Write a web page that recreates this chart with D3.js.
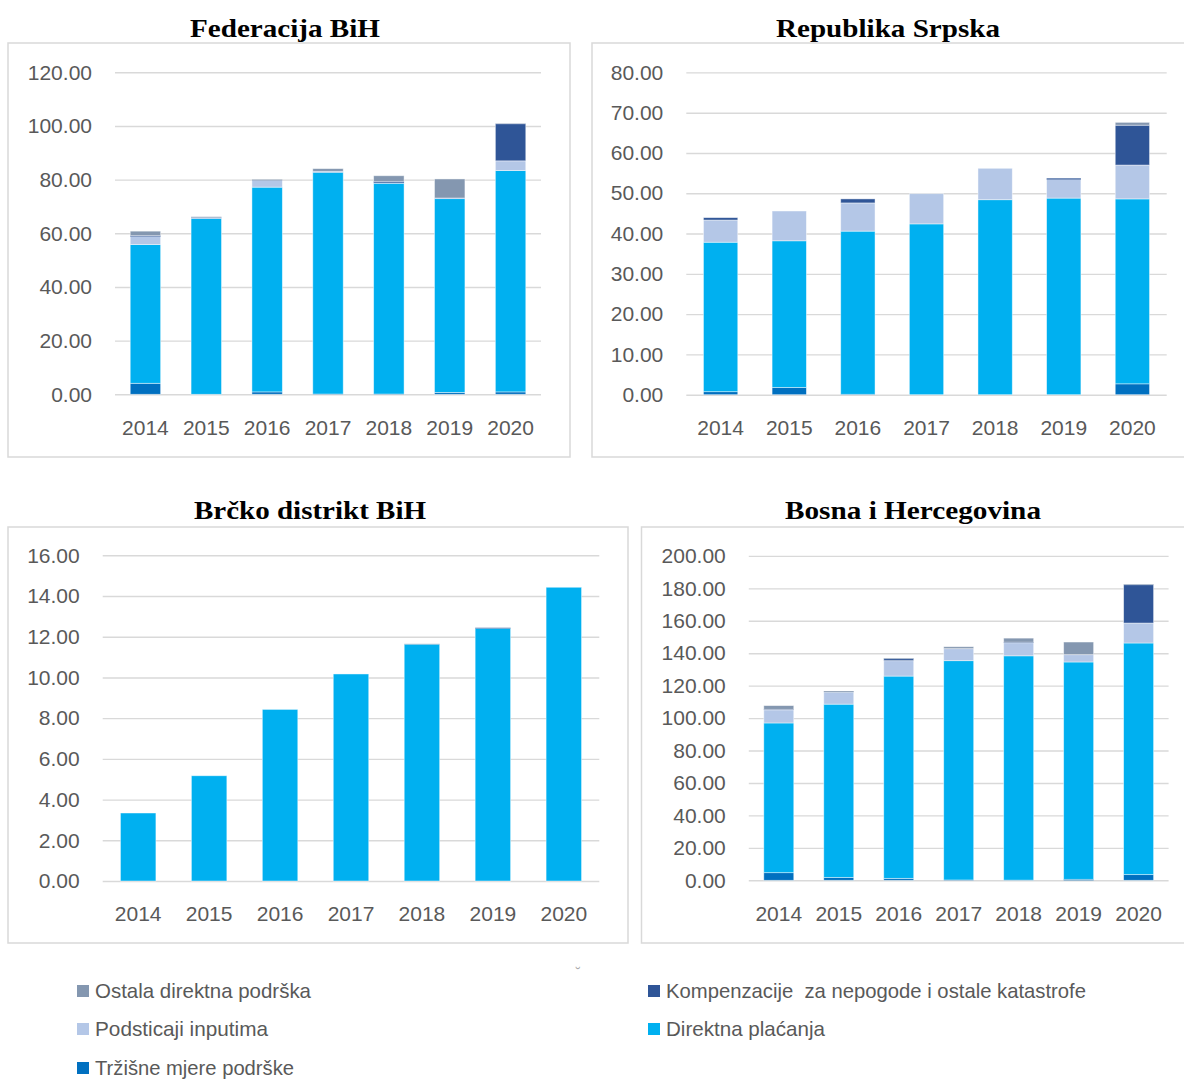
<!DOCTYPE html>
<html>
<head>
<meta charset="utf-8">
<title>Direktna podrška po entitetima</title>
<style>
  body { margin:0; background:#fff; }
  svg text { font-family: "Liberation Sans", Arial, sans-serif; }
</style>
</head>
<body>
<script src="https://cdnjs.cloudflare.com/ajax/libs/d3/7.8.5/d3.min.js"></script>
<script type="text/javascript">
    // categories
    var years = ["2014", "2015", "2016", "2017", "2018", "2019", "2020"];

    // series, bottom to top of the stack
    var seriesNames = ["Tržišne mjere podrške", "Direktna plaćanja", "Podsticaji inputima",
                       "Kompenzacije  za nepogode i ostale katastrofe", "Ostala direktna podrška"];
    var seriesColors = ["#0070C0", "#00B0F0", "#B4C7E7", "#2F5597", "#8497B0"];

    // Federacija BiH
    var trzisneFbih    = [4.1, 0.0, 0.9, 0.1, 0.1, 0.7, 0.9];
    var direktnaFbih   = [51.7, 65.5, 76.3, 82.6, 78.5, 72.2, 82.5];
    var podsticajiFbih = [3.0, 0.4, 2.5, 0.4, 0.25, 0.25, 3.6];
    var kompFbih       = [0.4, 0.0, 0.1, 0.0, 0.5, 0.0, 13.8];
    var ostalaFbih     = [1.6, 0.25, 0.2, 1.0, 2.1, 7.1, 0.1];

    // Republika Srpska
    var trzisneRs    = [0.75, 1.8, 0.1, 0.0, 0.0, 0.0, 2.7];
    var direktnaRs   = [37.1, 36.4, 40.5, 42.4, 48.4, 48.8, 45.9];
    var podsticajiRs = [5.5, 7.4, 7.0, 7.5, 7.8, 4.6, 8.4];
    var kompRs       = [0.6, 0.0, 1.0, 0.0, 0.0, 0.3, 9.9];
    var ostalaRs     = [0.0, 0.0, 0.0, 0.0, 0.0, 0.0, 0.7];

    // Brčko distrikt BiH
    var trzisneBrcko    = [0, 0, 0, 0, 0, 0, 0];
    var direktnaBrcko   = [3.34, 5.17, 8.43, 10.17, 11.63, 12.41, 14.43];
    var podsticajiBrcko = [0, 0, 0, 0, 0, 0, 0];
    var kompBrcko       = [0, 0, 0, 0, 0, 0.03, 0];
    var ostalaBrcko     = [0, 0, 0, 0, 0.02, 0, 0];

    // Bosna i Hercegovina
    var trzisneBih    = [4.7, 1.8, 1.2, 0.2, 0.1, 0.6, 3.5];
    var direktnaBih   = [92.3, 106.8, 124.7, 135.2, 138.3, 134.0, 142.8];
    var podsticajiBih = [8.0, 7.4, 9.5, 7.4, 8.0, 4.5, 12.3];
    var kompBih       = [0.4, 0.0, 1.2, 0.0, 0.4, 0.0, 23.6];
    var ostalaBih     = [2.3, 0.6, 0.3, 1.2, 2.5, 7.8, 0.3];

    // y tick labels
    var ticksFbih  = [0, 20, 40, 60, 80, 100, 120];
    var ticksRs    = [0, 10, 20, 30, 40, 50, 60, 70, 80];
    var ticksBrcko = [0, 2, 4, 6, 8, 10, 12, 14, 16];
    var ticksBih   = [0, 20, 40, 60, 80, 100, 120, 140, 160, 180, 200];

    var svg = d3.select("body")
            .append("svg")
            .attr("width", 1184)
            .attr("height", 1079);

    var panels = [
        {title: "Federacija BiH", tx: 285, ty: 37, tw: 190, box: [8, 43, 570, 457],
         xr: [115, 541], yr: [394.3, 72.3], ticks: ticksFbih, labelY: 435,
         data: [trzisneFbih, direktnaFbih, podsticajiFbih, kompFbih, ostalaFbih]},
        {title: "Republika Srpska", tx: 888, ty: 37, tw: 224, box: [592, 43, 1194, 457],
         xr: [686.3, 1166.7], yr: [394.7, 72.4], ticks: ticksRs, labelY: 435,
         data: [trzisneRs, direktnaRs, podsticajiRs, kompRs, ostalaRs]},
        {title: "Brčko distrikt BiH", tx: 310, ty: 519, tw: 232, box: [8, 527, 628, 943],
         xr: [102.7, 599.3], yr: [881, 555.3], ticks: ticksBrcko, labelY: 921,
         data: [trzisneBrcko, direktnaBrcko, podsticajiBrcko, kompBrcko, ostalaBrcko]},
        {title: "Bosna i Hercegovina", tx: 913, ty: 519, tw: 256, box: [641.5, 527, 1194, 943],
         xr: [748.8, 1168.6], yr: [880.3, 555.9], ticks: ticksBih, labelY: 921,
         data: [trzisneBih, direktnaBih, podsticajiBih, kompBih, ostalaBih]}
    ];

    panels.forEach(function(p) {
        var g = svg.append("g");

        g.append("rect")
            .attr("x", p.box[0]).attr("y", p.box[1])
            .attr("width", p.box[2] - p.box[0]).attr("height", p.box[3] - p.box[1])
            .attr("fill", "#fff").attr("stroke", "#d9d9d9").attr("stroke-width", 1.5);

        g.append("text")
            .attr("x", p.tx).attr("y", p.ty)
            .attr("text-anchor", "middle")
            .attr("textLength", p.tw)
            .attr("lengthAdjust", "spacingAndGlyphs")
            .style("font-family", "'Liberation Serif', 'Times New Roman', serif")
            .style("font-weight", "bold")
            .style("font-size", "26px")
            .attr("fill", "#000")
            .text(p.title);

        var x = d3.scaleBand().domain(years).range(p.xr).paddingInner(0.5).paddingOuter(0.25);
        var y = d3.scaleLinear().domain([0, p.ticks[p.ticks.length - 1]]).range(p.yr);

        // gridlines + y labels
        var yAxis = g.append("g")
            .attr("transform", "translate(" + p.xr[0] + ",0)")
            .call(d3.axisLeft(y).tickValues(p.ticks).tickFormat(d3.format(".2f"))
                  .tickSize(-(p.xr[1] - p.xr[0])).tickPadding(23));
        yAxis.select(".domain").remove();
        yAxis.selectAll("line").attr("stroke", "#d9d9d9").attr("stroke-width", 1.4);
        yAxis.selectAll("text")
            .attr("fill", "#595959")
            .style("font-size", "21px")
            .style("font-family", "'Liberation Sans', Arial, sans-serif");

        // stacked bars
        var rows = years.map(function(yr, i) {
            var r = {year: yr};
            seriesNames.forEach(function(s, k) { r[s] = p.data[k][i]; });
            return r;
        });
        var stacked = d3.stack().keys(seriesNames)(rows);

        g.selectAll("g.series")
            .data(stacked)
            .enter()
              .append("g")
              .attr("class", "series")
              .attr("fill", function(d, k) { return seriesColors[k]; })
              .selectAll("rect")
              .data(function(d) { return d; })
              .enter()
                .append("rect")
                .attr("x", function(d) { return x(d.data.year); })
                .attr("width", x.bandwidth())
                .attr("y", function(d) { return y(d[1]); })
                .attr("height", function(d) { return Math.max(0, y(d[0]) - y(d[1])); })
                .attr("stroke", "#fff")
                .attr("stroke-opacity", 0.55)
                .attr("stroke-width", function(d) { return (d[1] - d[0]) > 0.6 ? 0.8 : 0; });

        // x labels
        var xAxis = g.append("g")
            .attr("transform", "translate(0," + p.yr[0] + ")")
            .call(d3.axisBottom(x).tickSize(0));
        xAxis.select(".domain").remove();
        xAxis.selectAll("text")
            .attr("y", p.labelY - p.yr[0])
            .attr("dy", 0)
            .attr("fill", "#595959")
            .style("font-size", "21px")
            .style("font-family", "'Liberation Sans', Arial, sans-serif");
    });

    // legend
    var legendItems = [
        {k: 4, x: 77, y: 991, w: 216},
        {k: 2, x: 77, y: 1029, w: 173},
        {k: 0, x: 77, y: 1068, w: 199},
        {k: 3, x: 648, y: 991, w: 420},
        {k: 1, x: 648, y: 1029, w: 159}
    ];
    var legend = svg.append("g");
    legendItems.forEach(function(it) {
        legend.append("rect")
            .attr("x", it.x).attr("y", it.y - 6)
            .attr("width", 12).attr("height", 12)
            .attr("fill", seriesColors[it.k]);
        legend.append("text")
            .attr("x", it.x + 18).attr("y", it.y + 7)
            .attr("fill", "#595959")
            .attr("textLength", it.w)
            .attr("lengthAdjust", "spacingAndGlyphs")
            .style("font-size", "21px")
            .style("white-space", "pre")
            .text(seriesNames[it.k]);
    });

    // small stray mark above the legend
    svg.append("text")
        .attr("x", 578).attr("y", 978)
        .attr("text-anchor", "middle")
        .attr("fill", "#aaa")
        .style("font-size", "14px")
        .text("˘");
</script>
</body>
</html>
